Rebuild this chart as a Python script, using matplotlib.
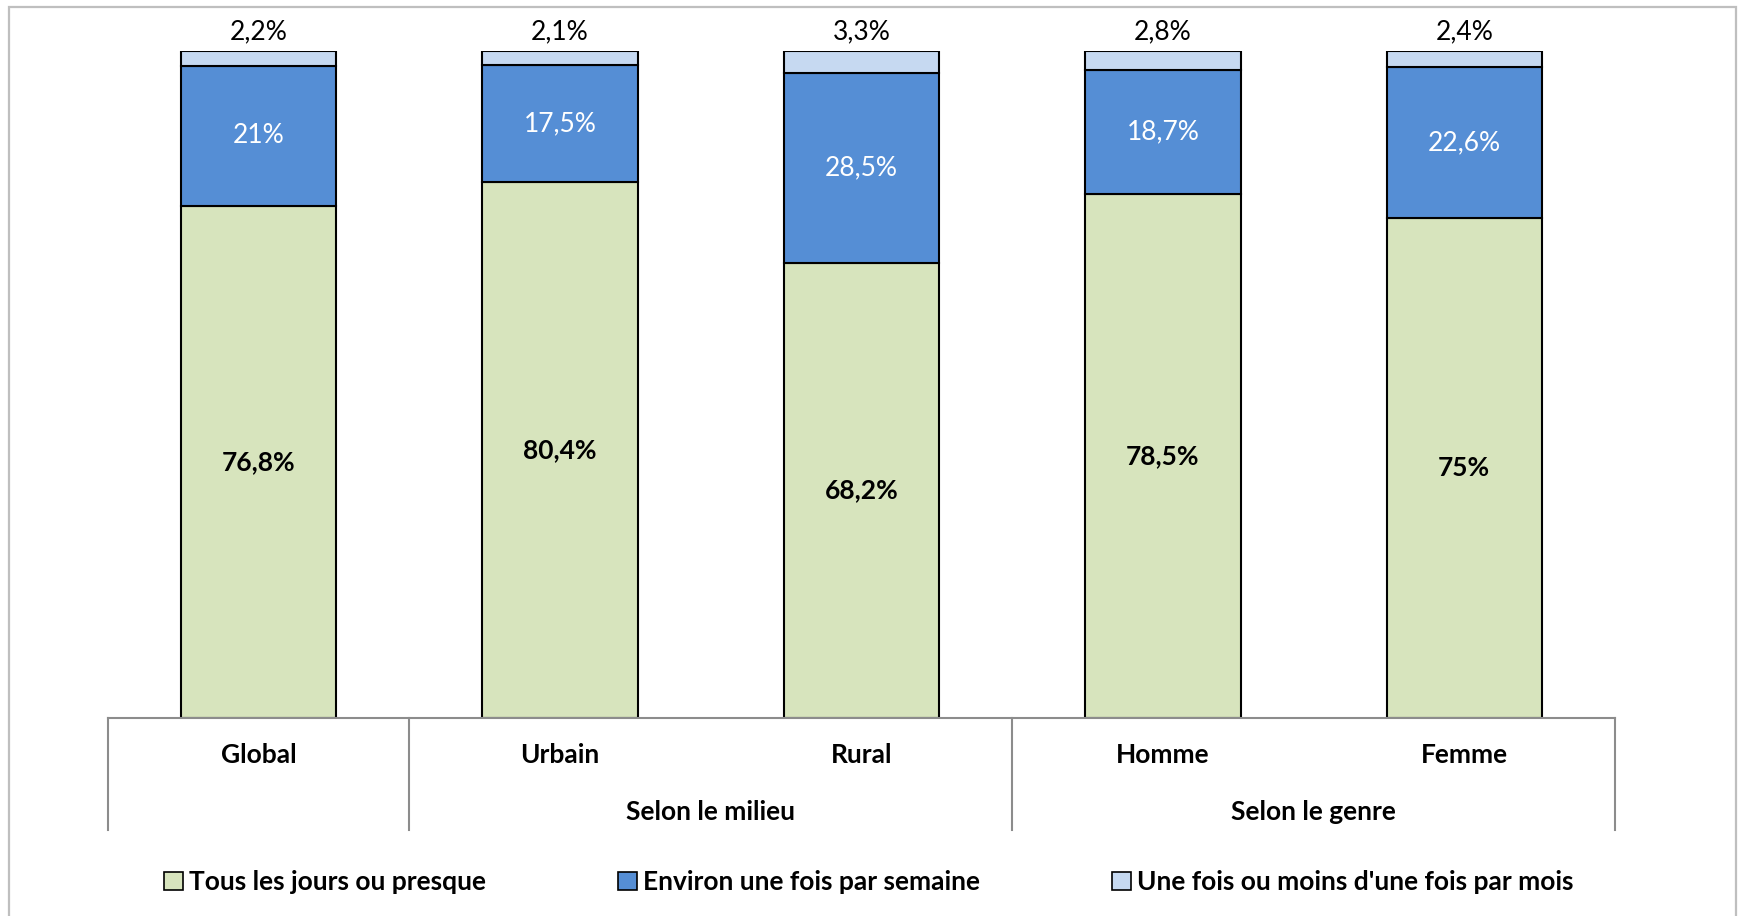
import matplotlib
matplotlib.use("Agg")
import matplotlib.pyplot as plt
from matplotlib.patches import Patch, Rectangle

plt.rcParams['font.family'] = ['Lato', 'DejaVu Sans']

categories = ["Global", "Urbain", "Rural", "Homme", "Femme"]
groups = [("", 0, 0), ("Selon le milieu", 1, 2), ("Selon le genre", 3, 4)]
series_names = ["Tous les jours ou presque",
                "Environ une fois par semaine",
                "Une fois ou moins d'une fois par mois"]
daily = [76.8, 80.4, 68.2, 78.5, 75.0]
weekly = [21.0, 17.5, 28.5, 18.7, 22.6]
monthly = [2.2, 2.1, 3.3, 2.8, 2.4]
daily_labels = ["76,8%", "80,4%", "68,2%", "78,5%", "75%"]
weekly_labels = ["21%", "17,5%", "28,5%", "18,7%", "22,6%"]
monthly_labels = ["2,2%", "2,1%", "3,3%", "2,8%", "2,4%"]

colors = ["#D7E4BD", "#558ED5", "#C6D9F1"]

W, H = 1738, 916
fig = plt.figure(figsize=(W / 100, H / 100), dpi=100)

# outer frame
fig.add_artist(Rectangle((9 / W, -0.01), (1736 - 9) / W, (H - 7) / H + 0.01,
                         transform=fig.transFigure, fill=False,
                         edgecolor="#BFBFBF", linewidth=1.6))

ax_l, ax_r = 108 / W, 1615 / W
ax_b = (H - 718) / H
ax_t = (H - 51) / H
ax = fig.add_axes([ax_l, ax_b, ax_r - ax_l, ax_t - ax_b])
x = list(range(len(categories)))
bw = 0.515
bottom2 = [a + b for a, b in zip(daily, weekly)]
ax.bar(x, daily, bw, color=colors[0], edgecolor="black", linewidth=1.5)
ax.bar(x, weekly, bw, bottom=daily, color=colors[1], edgecolor="black", linewidth=1.5)
ax.bar(x, monthly, bw, bottom=bottom2, color=colors[2], edgecolor="black", linewidth=1.5)

ax.set_xlim(-0.5, len(categories) - 0.5)
ax.set_ylim(0, 100)
for s in ax.spines.values():
    s.set_visible(False)
ax.set_xticks([])
ax.set_yticks([])

fs = 19
for i in x:
    ax.text(i, daily[i] / 2, daily_labels[i], ha="center", va="center",
            fontsize=fs, fontweight="bold", color="black")
    ax.text(i, daily[i] + weekly[i] / 2, weekly_labels[i], ha="center", va="center",
            fontsize=fs, color="white")
    ax.text(i, bottom2[i] + monthly[i] + 1.0, monthly_labels[i], ha="center", va="bottom",
            fontsize=fs, color="black", clip_on=False)

# category axis
trans = ax.get_xaxis_transform()
ax.plot([-0.5, len(categories) - 0.5], [0, 0], color="#8C8C8C", linewidth=1.5,
        transform=trans, clip_on=False)
div_bottom = -(830 - 718) / (718 - 51)
lab_y = -(755 - 718) / (718 - 51)
grp_y = -(812 - 718) / (718 - 51)
dividers = [-0.5] + [g[2] + 0.5 for g in groups]
for d in dividers:
    ax.plot([d, d], [0, div_bottom], color="#8C8C8C", linewidth=1.5,
            transform=trans, clip_on=False)
for i, c in enumerate(categories):
    ax.text(i, lab_y, c, ha="center", va="center", fontsize=fs,
            fontweight="bold", transform=trans)
for name, a, b in groups:
    if name:
        ax.text((a + b) / 2, grp_y, name, ha="center", va="center", fontsize=fs,
                fontweight="bold", transform=trans)

handles = [Patch(facecolor=c, edgecolor="black", linewidth=1.2) for c in colors]
fig.legend(handles, series_names, loc="center", bbox_to_anchor=(0.5, (H - 882) / H),
           ncol=3, frameon=False, prop={"size": fs, "weight": "bold"},
           handlelength=0.7, handleheight=0.7, handletextpad=0.25,
           columnspacing=5.0)

fig.savefig("out.png", dpi=100)
